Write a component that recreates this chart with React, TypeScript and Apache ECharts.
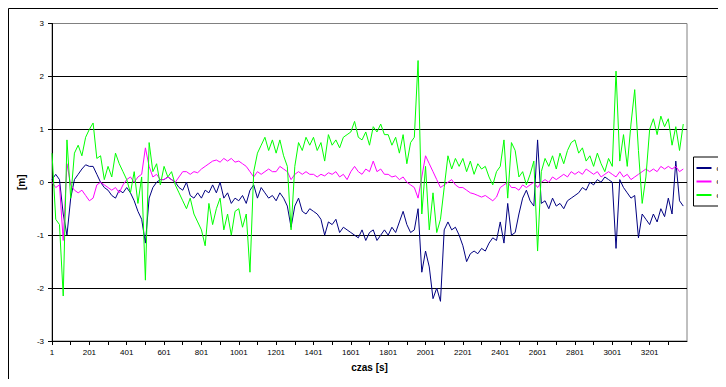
import React, { useEffect, useRef } from "react";
import * as echarts from "echarts";

// Sample spacing of the stored readings (in samples, i.e. seconds)
const STEP = 20;
const SERIES_NAMES = ["dlN", "dlE", "dlU"];
const SERIES_COLORS = ["#000080", "#FF00FF", "#00FF00"];

// Position differences [m], one reading every STEP samples starting at sample 1
const dlN = [
  0.05, 0.15, 0.05, -0.6, -1.0, -0.3, 0.05, 0.15, 0.25, 0.33,
  0.3, 0.3, 0.15, 0.0, -0.1, -0.15, -0.25, -0.3, -0.15, -0.2,
  -0.1, -0.2, -0.35, -0.55, -0.7, -1.15, -0.3, -0.1, 0.0, 0.05,
  0.05, 0.1, 0.05, 0.0, -0.1, -0.15, 0.0, -0.25, -0.3, -0.2,
  -0.3, -0.15, -0.2, -0.05, -0.2, 0.0, -0.3, -0.2, -0.4, -0.3,
  -0.35, -0.25, -0.4, -0.15, -0.05, -0.3, -0.1, -0.2, -0.3, -0.25,
  -0.35, -0.2, -0.3, -0.45, -0.85, -0.45, -0.3, -0.55, -0.6, -0.5,
  -0.55, -0.6, -0.7, -1.0, -0.75, -0.8, -0.7, -0.95, -0.85, -0.9,
  -0.95, -1.0, -1.05, -0.9, -1.1, -0.95, -0.9, -1.1, -1.0, -0.9,
  -1.0, -0.85, -0.95, -0.75, -0.55, -0.8, -0.95, -0.9, -0.5, -1.7,
  -1.3, -1.6, -2.2, -2.0, -2.25, -0.9, -0.75, -0.9, -0.85, -1.0,
  -1.2, -1.5, -1.35, -1.3, -1.35, -1.25, -1.3, -1.15, -1.05, -1.1,
  -0.75, -1.15, -0.4, -1.0, -0.95, -0.6, -0.3, -0.15, -0.35, -0.45,
  0.8, -0.4, -0.35, -0.5, -0.3, -0.45, -0.4, -0.5, -0.35, -0.3,
  -0.25, -0.2, -0.1, -0.15, 0.0, -0.05, 0.05, 0.0, 0.1, 0.05,
  0.0, -1.25, 0.05, -0.1, -0.2, -0.3, -0.25, -1.05, -0.6, -0.7,
  -0.8, -0.6, -0.75, -0.5, -0.65, -0.3, -0.6, 0.4, -0.35, -0.45,
];

const dlE = [
  0.0, -0.1, -0.05, -1.1, 0.35, -0.05, -0.15, -0.2, -0.15, -0.25,
  -0.35, -0.3, -0.05, 0.0, -0.05, -0.1, -0.15, -0.1, -0.2, -0.05,
  0.05, 0.1, 0.0, 0.1, 0.15, 0.65, 0.3, 0.1, 0.15, 0.05,
  0.05, 0.1, 0.05, 0.0, 0.1, 0.2, 0.2, 0.15, 0.2, 0.18,
  0.25, 0.3, 0.35, 0.4, 0.42, 0.38, 0.45, 0.4, 0.45, 0.38,
  0.4, 0.35, 0.3, 0.2, 0.1, 0.2, 0.15, 0.2, 0.25, 0.2,
  0.2, 0.3, 0.25, 0.2, 0.05, 0.15, 0.2, 0.15, 0.2, 0.15,
  0.15, 0.1, 0.15, 0.12, 0.18, 0.15, 0.2, 0.1, 0.15, 0.05,
  0.2, 0.3, 0.2, 0.15, 0.25, 0.2, 0.4, 0.2, 0.25, 0.15,
  0.15, 0.1, 0.12, 0.05, 0.1, 0.0, -0.05, -0.1, -0.3, 0.1,
  0.5, 0.35, 0.2, 0.05, -0.1, -0.05, 0.0, 0.05, -0.05, -0.1,
  -0.1, -0.15, -0.2, -0.22, -0.25, -0.28, -0.25, -0.3, -0.35, -0.28,
  -0.1, -0.05, 0.0, -0.1, -0.1, -0.15, -0.05, -0.1, -0.05, 0.0,
  -0.1, 0.0, 0.05, 0.0, 0.1, 0.05, 0.1, 0.15, 0.1, 0.2,
  0.15, 0.2, 0.15, 0.25, 0.2, 0.15, 0.2, 0.1, 0.15, 0.2,
  0.15, 0.1, 0.2, 0.1, 0.15, 0.05, 0.1, 0.15, 0.2, 0.25,
  0.2, 0.25, 0.2, 0.3, 0.25, 0.3, 0.25, 0.3, 0.2, 0.25,
];

const dlU = [
  0.55, -0.7, -0.8, -2.15, 0.8, -0.3, 0.55, 0.7, 0.5, 0.85,
  1.0, 1.12, 0.45, 0.5, 0.05, 0.3, 0.1, 0.55, 0.35, 0.2,
  0.05, -0.2, 0.2, -0.4, 0.1, -1.85, 0.75, 0.2, 0.35, -0.05,
  0.3, 0.1, 0.2, -0.05, -0.2, -0.35, -0.5, -0.3, -0.6, -0.75,
  -0.9, -1.2, -0.4, -0.8, -0.5, -0.3, -0.9, -0.6, -1.0, -0.55,
  -0.5, -0.85, -0.6, -1.7, 0.2, 0.55, 0.7, 0.85, 0.6, 0.8,
  0.55, 0.8, 0.5, 0.3, -0.9, 0.3, 0.75, 0.6, 0.85, 0.7,
  0.85, 0.6, 0.75, 0.4, 0.9, 0.7, 0.8, 0.65, 0.85, 0.9,
  0.95, 1.15, 0.85, 0.8, 0.95, 0.7, 1.05, 0.95, 1.1, 0.9,
  0.9, 0.7, 0.85, 0.55, 0.9, 0.35, 0.75, 0.85, 2.3, -0.6,
  0.3, -0.9, -0.2, -0.95, -0.7, -0.1, 0.5, 0.25, 0.45, 0.3,
  0.45, 0.2, 0.4, 0.15, 0.35, 0.25, 0.3, 0.1, -0.05, 0.2,
  0.3, 0.8, -0.3, 0.75, 0.6, 0.1, 0.2, -0.05, 0.15, 0.4,
  -1.3, 0.2, 0.45, 0.3, 0.5, 0.25, 0.55, 0.35, 0.6, 0.75,
  0.8, 0.55, 0.65, 0.4, 0.5, 0.3, 0.55, 0.35, 0.2, 0.45,
  0.3, 2.1, 0.4, 0.9, 0.3, 1.1, 1.75, 0.6, -0.4, 0.1,
  1.0, 1.2, 0.9, 1.25, 1.05, 1.2, 0.7, 1.05, 0.6, 1.1,
];

const X_MAX = 3400; // last sample offset on the time axis
const X_TICK = 100;
const X_LABEL_EVERY = 200;
const Y_MIN = -3;
const Y_MAX = 3;

const FONT = "'Liberation Sans', Arial, sans-serif";

// x values are sample offsets from the first sample (sample 1 -> 0)
const toPairs = (vals: number[]) => vals.map((v, k) => [k * STEP, v]);

export default function App() {
  const ref = useRef<HTMLDivElement>(null);

  useEffect(() => {
    if (!ref.current) return;
    const chart = echarts.init(ref.current, undefined, { renderer: "svg" });
    const values = [dlN, dlE, dlU];

    chart.setOption({
      animation: false,
      backgroundColor: "#ffffff",
      textStyle: { fontFamily: FONT },
      graphic: [
        { type: "line", shape: { x1: 0.5, y1: 0.5, x2: 718, y2: 0.5 }, style: { stroke: "#000", lineWidth: 1 } },
        { type: "line", shape: { x1: 0.5, y1: 0.5, x2: 0.5, y2: 371 }, style: { stroke: "#000", lineWidth: 1 } },
      ],
      grid: {
        left: 44,
        right: 39,
        top: 15.5,
        bottom: 38,
        show: true,
        borderColor: "#808080",
        borderWidth: 1,
        backgroundColor: "#ffffff",
      },
      legend: {
        orient: "vertical",
        left: 685.5,
        top: 149,
        padding: [6, 3, 6, 3],
        itemGap: 3.5,
        itemWidth: 15,
        itemHeight: 2,
        icon: "rect",
        borderColor: "#000",
        borderWidth: 1,
        backgroundColor: "#ffffff",
        textStyle: { fontSize: 8, lineHeight: 10, color: "#000", fontFamily: FONT },
        data: SERIES_NAMES,
      },
      xAxis: {
        type: "value",
        min: 0,
        max: X_MAX,
        interval: X_TICK,
        name: "czas [s]",
        nameLocation: "middle",
        nameGap: 21,
        nameTextStyle: { fontSize: 10, fontWeight: "bold", color: "#000", fontFamily: FONT },
        axisLine: { onZero: false, lineStyle: { color: "#000", width: 1 } },
        axisTick: { show: true, inside: false, length: 4, lineStyle: { color: "#000" } },
        axisLabel: {
          fontSize: 8,
          color: "#000",
          margin: 7,
          fontFamily: FONT,
          showMaxLabel: false,
          formatter: (v: number) => (v % X_LABEL_EVERY === 0 && v < X_MAX ? String(v + 1) : ""),
        },
        splitLine: { show: false },
      },
      yAxis: {
        type: "value",
        min: Y_MIN,
        max: Y_MAX,
        interval: 1,
        name: "[m]",
        nameLocation: "middle",
        nameGap: 26,
        nameRotate: 90,
        nameTextStyle: { fontSize: 10, fontWeight: "bold", color: "#000", fontFamily: FONT },
        axisLine: { show: true, lineStyle: { color: "#000", width: 1 } },
        axisTick: { show: true, inside: false, length: 4, lineStyle: { color: "#000" } },
        axisLabel: { fontSize: 8, color: "#000", margin: 8, fontFamily: FONT },
        splitLine: { show: true, showMinLine: false, showMaxLine: false, lineStyle: { color: "#000", width: 1 } },
      },
      series: SERIES_NAMES.map((name, i) => ({
        name,
        type: "line",
        data: toPairs(values[i]),
        symbol: "none",
        showSymbol: false,
        clip: true,
        lineStyle: { color: SERIES_COLORS[i], width: 1 },
        itemStyle: { color: SERIES_COLORS[i] },
        z: 2 + i,
      })),
    });

    return () => chart.dispose();
  }, []);

  return <div ref={ref} style={{ width: 718, height: 371 }} />;
}
